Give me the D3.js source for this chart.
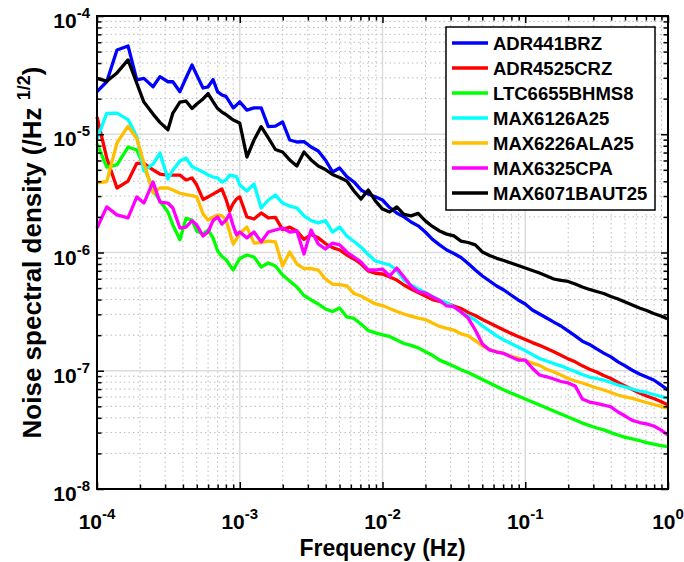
<!DOCTYPE html>
<html><head><meta charset="utf-8">
<script src="https://cdn.jsdelivr.net/npm/d3@7"></script>
<style>
body{margin:0;background:#fff}
text{font-family:"Liberation Sans",Arial,Helvetica,sans-serif;font-weight:bold;fill:#000}
</style>
</head><body>
<svg id="chart" width="684" height="562"></svg>
<script>
// ---------- data ----------
const frequencies = [
  1.00e-4,1.17e-4,1.38e-4,1.65e-4,1.90e-4,2.13e-4,2.47e-4,2.76e-4,3.14e-4,3.40e-4,3.81e-4,4.20e-4,
  4.63e-4,5.00e-4,5.53e-4,6.00e-4,6.50e-4,7.00e-4,7.50e-4,8.00e-4,8.50e-4,9.00e-4,9.50e-4,
  1.000e-3,1.122e-3,1.259e-3,1.413e-3,1.585e-3,1.778e-3,1.995e-3,2.239e-3,2.512e-3,2.818e-3,
  3.162e-3,3.548e-3,3.981e-3,4.467e-3,5.012e-3,5.623e-3,6.310e-3,7.079e-3,7.943e-3,8.913e-3,
  1.000e-2,1.122e-2,1.259e-2,1.413e-2,1.585e-2,1.778e-2,1.995e-2,2.239e-2,2.512e-2,2.818e-2,
  3.162e-2,3.548e-2,3.981e-2,4.467e-2,5.012e-2,5.623e-2,6.310e-2,7.079e-2,7.943e-2,8.913e-2,
  1.000e-1,1.122e-1,1.259e-1,1.413e-1,1.585e-1,1.778e-1,1.995e-1,2.239e-1,2.512e-1,2.818e-1,
  3.162e-1,3.548e-1,3.981e-1,4.467e-1,5.012e-1,5.623e-1,6.310e-1,7.079e-1,7.943e-1,8.913e-1,
  1.0
];
const adr441brz = [
  2.29e-5,2.78e-5,5.16e-5,5.58e-5,2.88e-5,2.97e-5,2.52e-5,3.07e-5,2.78e-5,2.78e-5,2.29e-5,2.99e-5,
  3.85e-5,3.16e-5,2.46e-5,2.52e-5,2.90e-5,2.28e-5,2.15e-5,2.09e-5,1.87e-5,1.67e-5,1.77e-5,
  1.88e-5,1.60e-5,1.67e-5,1.67e-5,1.16e-5,1.17e-5,1.27e-5,8.94e-6,8.60e-6,8.66e-6,
  7.80e-6,7.22e-6,6.06e-6,4.80e-6,5.18e-6,4.38e-6,3.95e-6,3.38e-6,3.12e-6,2.96e-6,
  2.78e-6,2.40e-6,2.16e-6,2.00e-6,1.81e-6,1.68e-6,1.49e-6,1.29e-6,1.16e-6,1.05e-6,
  9.81e-7,9.07e-7,8.07e-7,7.11e-7,6.33e-7,5.74e-7,5.21e-7,4.82e-7,4.37e-7,3.97e-7,
  3.67e-7,3.26e-7,3.02e-7,2.79e-7,2.58e-7,2.39e-7,2.17e-7,1.97e-7,1.78e-7,1.67e-7,
  1.53e-7,1.41e-7,1.31e-7,1.19e-7,1.10e-7,1.01e-7,9.39e-8,8.85e-8,8.35e-8,7.58e-8,
  6.87e-8
];
const adr4525crz = [
  1.40e-5,6.30e-6,3.51e-6,4.02e-6,5.68e-6,5.68e-6,4.99e-6,4.61e-6,4.52e-6,4.52e-6,4.52e-6,4.10e-6,
  4.27e-6,3.72e-6,2.81e-6,2.95e-6,3.12e-6,3.28e-6,3.44e-6,2.83e-6,2.24e-6,2.60e-6,2.83e-6,
  2.95e-6,2.00e-6,1.92e-6,2.16e-6,1.96e-6,1.98e-6,1.56e-6,1.64e-6,1.52e-6,1.29e-6,
  1.42e-6,1.33e-6,1.19e-6,1.10e-6,1.05e-6,9.53e-7,8.81e-7,7.99e-7,6.98e-7,6.67e-7,
  6.58e-7,6.21e-7,5.85e-7,5.31e-7,4.91e-7,4.59e-7,4.29e-7,4.00e-7,3.85e-7,3.72e-7,
  3.53e-7,3.36e-7,3.11e-7,2.93e-7,2.71e-7,2.53e-7,2.37e-7,2.21e-7,2.07e-7,1.95e-7,
  1.84e-7,1.73e-7,1.64e-7,1.54e-7,1.45e-7,1.35e-7,1.26e-7,1.19e-7,1.10e-7,1.03e-7,
  9.76e-8,9.12e-8,8.60e-8,7.96e-8,7.43e-8,6.94e-8,6.48e-8,6.12e-8,5.83e-8,5.50e-8,
  5.13e-8
];
const ltc6655bhms8 = [
  8.35e-6,5.28e-6,5.50e-6,7.80e-6,7.36e-6,5.39e-6,3.38e-6,2.73e-6,2.20e-6,1.71e-6,1.28e-6,1.94e-6,
  1.88e-6,1.52e-6,1.43e-6,1.55e-6,1.33e-6,1.03e-6,9.25e-7,8.73e-7,7.84e-7,7.11e-7,7.99e-7,
  8.90e-7,9.53e-7,9.16e-7,7.54e-7,8.15e-7,7.69e-7,6.44e-7,5.74e-7,5.11e-7,4.33e-7,
  3.97e-7,3.67e-7,3.33e-7,3.17e-7,3.39e-7,2.85e-7,2.77e-7,2.48e-7,2.19e-7,2.09e-7,
  2.01e-7,1.95e-7,1.82e-7,1.70e-7,1.64e-7,1.56e-7,1.45e-7,1.35e-7,1.23e-7,1.16e-7,
  1.09e-7,1.02e-7,9.66e-8,9.03e-8,8.43e-8,7.88e-8,7.36e-8,6.87e-8,6.48e-8,6.12e-8,
  5.77e-8,5.44e-8,5.13e-8,4.84e-8,4.57e-8,4.31e-8,4.06e-8,3.83e-8,3.61e-8,3.44e-8,
  3.28e-8,3.16e-8,3.00e-8,2.86e-8,2.73e-8,2.65e-8,2.57e-8,2.47e-8,2.40e-8,2.33e-8,
  2.28e-8
];
const max6126a25 = [
  9.12e-6,1.50e-5,1.51e-5,1.33e-5,9.57e-6,4.89e-6,5.60e-6,6.94e-6,4.18e-6,4.99e-6,5.94e-6,6.30e-6,
  5.34e-6,5.08e-6,4.80e-6,4.52e-6,4.35e-6,4.27e-6,3.95e-6,4.10e-6,4.52e-6,4.44e-6,4.38e-6,
  3.72e-6,3.31e-6,3.80e-6,2.38e-6,2.78e-6,3.06e-6,2.62e-6,2.47e-6,2.38e-6,2.04e-6,
  1.86e-6,1.78e-6,1.86e-6,1.49e-6,1.64e-6,1.38e-6,1.24e-6,1.11e-6,9.62e-7,8.48e-7,
  8.15e-7,7.84e-7,7.11e-7,5.85e-7,5.31e-7,4.91e-7,4.59e-7,4.25e-7,3.97e-7,3.74e-7,
  3.46e-7,3.14e-7,2.90e-7,2.69e-7,2.39e-7,2.17e-7,1.97e-7,1.82e-7,1.70e-7,1.59e-7,
  1.48e-7,1.37e-7,1.27e-7,1.21e-7,1.15e-7,1.10e-7,1.04e-7,9.86e-8,9.30e-8,8.85e-8,
  8.60e-8,8.35e-8,7.96e-8,7.58e-8,7.29e-8,7.01e-8,6.74e-8,6.55e-8,6.30e-8,6.06e-8,
  5.85e-8
];
const max6226ala25 = [
  3.89e-6,3.97e-6,8.43e-6,1.17e-5,9.21e-6,5.71e-6,3.19e-6,3.51e-6,3.51e-6,3.38e-6,3.17e-6,3.09e-6,
  3.03e-6,2.95e-6,2.12e-6,1.88e-6,2.00e-6,2.08e-6,2.04e-6,1.90e-6,1.49e-6,1.18e-6,1.30e-6,
  1.45e-6,1.64e-6,1.20e-6,1.215e-6,1.25e-6,1.23e-6,7.69e-7,1.01e-6,7.99e-7,7.32e-7,
  7.32e-7,7.11e-7,5.97e-7,5.41e-7,5.36e-7,5.21e-7,4.50e-7,4.29e-7,3.97e-7,3.67e-7,
  3.56e-7,3.36e-7,3.17e-7,3.02e-7,2.90e-7,2.79e-7,2.71e-7,2.53e-7,2.37e-7,2.28e-7,
  2.21e-7,2.05e-7,1.97e-7,1.80e-7,1.62e-7,1.51e-7,1.45e-7,1.40e-7,1.33e-7,1.28e-7,
  1.22e-7,1.16e-7,1.11e-7,1.03e-7,9.76e-8,9.21e-8,8.60e-8,8.19e-8,7.88e-8,7.50e-8,
  7.15e-8,6.87e-8,6.55e-8,6.24e-8,6.00e-8,5.83e-8,5.60e-8,5.39e-8,5.18e-8,4.99e-8,
  4.81e-8
];
const max6325cpa = [
  1.61e-6,2.43e-6,2.08e-6,1.96e-6,2.95e-6,2.62e-6,3.95e-6,2.67e-6,2.62e-6,2.38e-6,1.61e-6,1.64e-6,
  1.86e-6,1.71e-6,1.38e-6,1.49e-6,1.86e-6,2.00e-6,1.74e-6,1.88e-6,2.12e-6,1.68e-6,1.41e-6,
  1.49e-6,1.33e-6,1.49e-6,1.23e-6,1.49e-6,1.55e-6,1.61e-6,1.49e-6,1.52e-6,9.71e-7,
  1.55e-6,1.18e-6,1.07e-6,1.20e-6,1.16e-6,1.01e-6,9.16e-7,8.31e-7,7.11e-7,7.11e-7,
  7.25e-7,6.33e-7,7.39e-7,6.21e-7,5.21e-7,4.68e-7,4.54e-7,4.20e-7,3.93e-7,3.53e-7,
  3.48e-7,3.14e-7,2.79e-7,2.21e-7,1.68e-7,1.50e-7,1.44e-7,1.40e-7,1.31e-7,1.23e-7,
  1.23e-7,1.05e-7,9.21e-8,8.89e-8,8.52e-8,8.11e-8,7.88e-8,7.43e-8,5.77e-8,5.44e-8,
  5.30e-8,5.13e-8,4.94e-8,4.48e-8,4.14e-8,3.80e-8,3.65e-8,3.55e-8,3.41e-8,3.16e-8,
  2.86e-8
];
const max6071baut25 = [
  2.97e-5,2.81e-5,3.30e-5,4.25e-5,2.70e-5,1.87e-5,1.48e-5,1.26e-5,1.09e-5,1.51e-5,1.87e-5,1.91e-5,
  1.65e-5,1.80e-5,1.99e-5,2.21e-5,1.89e-5,1.65e-5,1.54e-5,1.47e-5,1.39e-5,1.32e-5,1.28e-5,
  1.24e-5,6.42e-6,8.94e-6,1.16e-5,9.30e-6,7.43e-6,7.08e-6,6.06e-6,5.39e-6,7.08e-6,
  6.06e-6,5.39e-6,5.03e-6,4.57e-6,4.31e-6,4.02e-6,3.31e-6,2.83e-6,3.38e-6,2.73e-6,
  2.33e-6,2.20e-6,2.43e-6,2.10e-6,2.04e-6,2.14e-6,1.85e-6,1.66e-6,1.52e-6,1.43e-6,
  1.38e-6,1.25e-6,1.215e-6,1.16e-6,1.01e-6,9.43e-7,8.93e-7,8.56e-7,8.15e-7,7.76e-7,
  7.39e-7,7.04e-7,6.71e-7,6.33e-7,5.97e-7,5.80e-7,5.69e-7,5.41e-7,5.11e-7,4.87e-7,
  4.68e-7,4.50e-7,4.25e-7,4.04e-7,3.81e-7,3.60e-7,3.39e-7,3.23e-7,3.05e-7,2.90e-7,
  2.74e-7
];
const seriesNames = ["ADR441BRZ","ADR4525CRZ","LTC6655BHMS8","MAX6126A25","MAX6226ALA25","MAX6325CPA","MAX6071BAUT25"];
const seriesValues = [adr441brz, adr4525crz, ltc6655bhms8, max6126a25, max6226ala25, max6325cpa, max6071baut25];
const seriesColors = ["#0000ff","#ff0000","#00ff00","#00ffff","#ffbf00","#ff00ff","#000000"];
const xTickExponents = [-4,-3,-2,-1,0];
const yTickExponents = [-8,-7,-6,-5,-4];
const xTitle = "Frequency (Hz)";
const yTitleMain = "Noise spectral density (/Hz ";
const yTitleSup = "1/2";
const yTitleEnd = ")";

// ---------- layout ----------
const L = 97, R = 668, T = 16, B = 489;
const svg = d3.select("#chart");
const x = d3.scaleLog().domain([1e-4, 1]).range([L, R]);
const y = d3.scaleLog().domain([1e-8, 1e-4]).range([B, T]);

const majorX = xTickExponents.map(e => Math.pow(10, e));
const majorY = yTickExponents.map(e => Math.pow(10, e));
const minorX = [], minorY = [];
xTickExponents.slice(0, -1).forEach(e => { for (let k = 2; k <= 9; k++) minorX.push(k * Math.pow(10, e)); });
yTickExponents.slice(0, -1).forEach(e => { for (let k = 2; k <= 9; k++) minorY.push(k * Math.pow(10, e)); });

// grid
const grid = svg.append("g");
grid.selectAll(".mgx").data(minorX).join("line")
  .attr("x1", d => x(d)).attr("x2", d => x(d)).attr("y1", T).attr("y2", B)
  .attr("stroke", "#bdbdbd").attr("stroke-width", 1).attr("stroke-dasharray", "1.5,3");
grid.selectAll(".mgy").data(minorY).join("line")
  .attr("y1", d => y(d)).attr("y2", d => y(d)).attr("x1", L).attr("x2", R)
  .attr("stroke", "#bdbdbd").attr("stroke-width", 1).attr("stroke-dasharray", "1.5,3");
grid.selectAll(".Mgx").data(majorX).join("line")
  .attr("x1", d => x(d)).attr("x2", d => x(d)).attr("y1", T).attr("y2", B)
  .attr("stroke", "#dcdcdc").attr("stroke-width", 1.5);
grid.selectAll(".Mgy").data(majorY).join("line")
  .attr("y1", d => y(d)).attr("y2", d => y(d)).attr("x1", L).attr("x2", R)
  .attr("stroke", "#dcdcdc").attr("stroke-width", 1.5);

// series
const line = d3.line().x((d, i) => x(frequencies[i])).y(d => y(d));
seriesValues.forEach((vals, s) => {
  svg.append("path").datum(vals).attr("d", line)
    .attr("fill", "none").attr("stroke", seriesColors[s])
    .attr("stroke-width", 3.3).attr("stroke-linejoin", "round");
});

// axes (ticks inward on all four sides)
function axisG(gen, tr) {
  const g = svg.append("g").attr("transform", tr).call(gen);
  g.select(".domain").remove();
  g.selectAll("text").remove();
  g.selectAll("line").attr("stroke", "#000").attr("stroke-width", 1.5);
  return g;
}
const MAJ = 7, MIN = 4.5;
axisG(d3.axisBottom(x).tickValues(majorX).tickSize(-MAJ), `translate(0,${B})`);
axisG(d3.axisBottom(x).tickValues(minorX).tickSize(-MIN), `translate(0,${B})`);
axisG(d3.axisTop(x).tickValues(majorX).tickSize(-MAJ), `translate(0,${T})`);
axisG(d3.axisTop(x).tickValues(minorX).tickSize(-MIN), `translate(0,${T})`);
axisG(d3.axisLeft(y).tickValues(majorY).tickSize(-MAJ), `translate(${L},0)`);
axisG(d3.axisLeft(y).tickValues(minorY).tickSize(-MIN), `translate(${L},0)`);
axisG(d3.axisRight(y).tickValues(majorY).tickSize(-MAJ), `translate(${R},0)`);
axisG(d3.axisRight(y).tickValues(minorY).tickSize(-MIN), `translate(${R},0)`);

svg.append("rect").attr("x", L).attr("y", T).attr("width", R - L).attr("height", B - T)
  .attr("fill", "none").attr("stroke", "#000").attr("stroke-width", 2);

// tick labels
xTickExponents.forEach(e => {
  const t = svg.append("text").attr("x", x(Math.pow(10, e))).attr("y", 529)
    .attr("text-anchor", "middle").style("font-size", "21px");
  t.append("tspan").text("10");
  t.append("tspan").attr("dy", -10).style("font-size", "15px").text(String(e));
});
yTickExponents.forEach(e => {
  const t = svg.append("text").attr("x", 90).attr("y", y(Math.pow(10, e)) + 12)
    .attr("text-anchor", "end").style("font-size", "21px");
  t.append("tspan").text("10");
  t.append("tspan").attr("dy", -10).style("font-size", "15px").text(String(e));
});

// axis titles
svg.append("text").attr("x", (L + R) / 2).attr("y", 556).attr("text-anchor", "middle")
  .style("font-size", "23px").text(xTitle);
const yt = svg.append("text").attr("transform", `translate(41,${(T + B) / 2}) rotate(-90)`)
  .attr("text-anchor", "middle").style("font-size", "26px");
yt.append("tspan").text(yTitleMain);
yt.append("tspan").attr("dy", -11).style("font-size", "18px").text(yTitleSup);
yt.append("tspan").attr("dy", 11).text(yTitleEnd);

// legend
const lg = svg.append("g");
lg.append("rect").attr("x", 446).attr("y", 27).attr("width", 209).attr("height", 183)
  .attr("fill", "#fff").attr("stroke", "#000").attr("stroke-width", 1.5);
seriesNames.forEach((n, i) => {
  const cy = 43 + i * 25;
  lg.append("line").attr("x1", 452).attr("x2", 488).attr("y1", cy).attr("y2", cy)
    .attr("stroke", seriesColors[i]).attr("stroke-width", 3.5);
  lg.append("text").attr("x", 493).attr("y", cy + 7).style("font-size", "18.5px").text(n);
});
</script>
</body></html>
